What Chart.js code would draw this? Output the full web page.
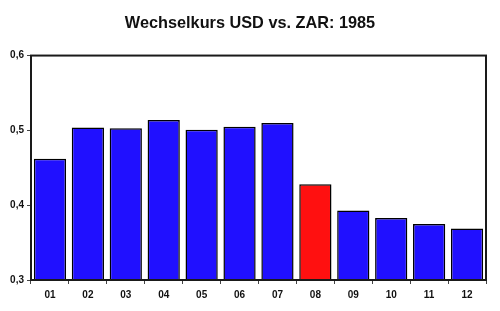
<!DOCTYPE html>
<html>
<head>
<meta charset="utf-8">
<script src="https://cdn.jsdelivr.net/npm/chart.js@4"></script>
<style>
  html, body { margin: 0; padding: 0; background: #fff; }
  #wrap { width: 500px; height: 311px; }
</style>
</head>
<body>
<div id="wrap"><canvas id="kurs" width="500" height="311"></canvas></div>
<script>
const Months = ['01','02','03','04','05','06','07','08','09','10','11','12'];
const Rates = [0.462, 0.504, 0.503, 0.514, 0.501, 0.505, 0.510, 0.428, 0.393, 0.383, 0.375, 0.369];
const Highlight = '08';
const YTicks = [0.3, 0.4, 0.5, 0.6];

// Rahmen um die Plotfläche
const FrameBox = {
  id: 'frameBox',
  afterDatasetsDraw(chart) {
    const a = chart.chartArea;
    const ctx = chart.ctx;
    ctx.save();
    ctx.strokeStyle = '#1a1a1a';
    ctx.lineWidth = 2;
    ctx.strokeRect(a.left, a.top, a.right - a.left, a.bottom - a.top);
    ctx.restore();
  }
};

const ctx = document.getElementById('kurs').getContext('2d');
new Chart(ctx, {
  type: 'bar',
  data: {
    labels: Months,
    datasets: [{
      data: Rates,
      backgroundColor: Months.map(m => m === Highlight ? '#ff1010' : '#2010ff'),
      borderColor: '#000',
      borderWidth: 1.5,
      borderSkipped: false,
      barPercentage: 0.85,
      categoryPercentage: 1
    }]
  },
  options: {
    responsive: false,
    animation: false,
    layout: { padding: 0 },
    plugins: {
      legend: { display: false },
      tooltip: { enabled: false },
      title: {
        display: true,
        text: 'Wechselkurs USD vs. ZAR: 1985',
        color: '#111',
        font: { family: 'Arial, "Liberation Sans"', size: 16.3, weight: 'bold' },
        padding: { top: 14, bottom: 22 }
      }
    },
    scales: {
      x: {
        grid: { drawOnChartArea: false, drawTicks: true, tickLength: 4, color: '#444', offset: true },
        border: { display: true, color: '#000', width: 2 },
        ticks: {
          color: '#111',
          padding: 5,
          font: { family: 'Arial, "Liberation Sans"', size: 10, weight: 'bold' }
        },
        afterFit(scale) { scale.height = 31; }
      },
      y: {
        min: YTicks[0],
        max: YTicks[YTicks.length - 1],
        afterBuildTicks(scale) { scale.ticks = YTicks.map(v => ({ value: v })); },
        grid: { drawOnChartArea: false, drawTicks: true, tickLength: 4, color: '#444' },
        border: { display: true, color: '#000', width: 2 },
        ticks: {
          color: '#111',
          padding: 3,
          font: { family: 'Arial, "Liberation Sans"', size: 10, weight: 'bold' },
          callback: v => v.toFixed(1).replace('.', ',')
        },
        afterFit(scale) { scale.width = 31; }
      },
      // leere Achse rechts als Abstand, Titel bleibt über der ganzen Breite zentriert
      rand: {
        position: 'right',
        display: true,
        grid: { display: false },
        border: { display: false },
        ticks: { display: false },
        afterFit(scale) { scale.width = 14; }
      }
    }
  },
  plugins: [FrameBox]
});
</script>
</body>
</html>
